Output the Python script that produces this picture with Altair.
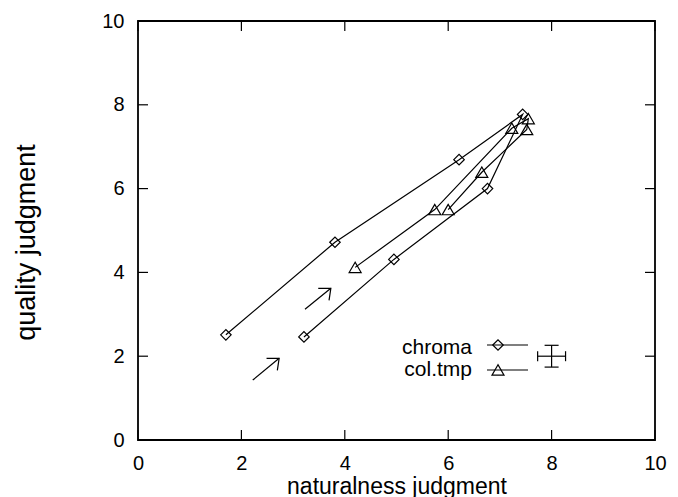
import altair as alt
import pandas as pd

FONT = "Liberation Sans"

# ---- data ----
X_TICKS = [0, 2, 4, 6, 8, 10]
Y_TICKS = [0, 2, 4, 6, 8, 10]

SERIES = ["chroma", "col.tmp"]
SHAPES = ["diamond", "triangle-up"]
SIZES = [110, 144]

chroma_x = [3.21, 4.95, 6.76, 7.44, 6.21, 3.81, 1.70]
chroma_y = [2.46, 4.31, 6.00, 7.77, 6.69, 4.72, 2.51]

coltmp_x = [4.20, 5.74, 7.23, 7.55, 7.52, 6.65, 6.00]
coltmp_y = [4.12, 5.50, 7.44, 7.67, 7.41, 6.39, 5.50]

# direction arrows (start -> end)
arrow_x0 = [2.22, 3.23]
arrow_y0 = [1.43, 3.12]
arrow_x1 = [2.73, 3.73]
arrow_y1 = [1.95, 3.62]

# typical error bar
err_x = [8.0]
err_y = [2.0]
err_dx = [0.27]
err_dy = [0.26]

# ---- layout ----
W, H = 517, 419
TICK_LEN = 10

xs = alt.Scale(domain=[0, 10], nice=False, zero=False)
ys = alt.Scale(domain=[0, 10], nice=False, zero=False)

x_axis = alt.Axis(values=X_TICKS, ticks=False, domain=False, grid=False,
                  labelFont=FONT, labelFontSize=20, labelColor="black",
                  labelPadding=13, labelFlush=False, labelOverlap=False,
                  title="naturalness judgment", titleFont=FONT, titleFontSize=23,
                  titleFontWeight="normal", titleColor="black",
                  titleY=53, titleBaseline="alphabetic")
y_axis = alt.Axis(values=Y_TICKS, ticks=False, domain=False, grid=False,
                  labelFont=FONT, labelFontSize=20, labelColor="black",
                  labelPadding=14, labelFlush=False, labelOverlap=False,
                  title="quality judgment", titleFont=FONT, titleFontSize=27,
                  titleFontWeight="normal", titleColor="black",
                  titleAngle=270, titleX=-112, titleY=221,
                  titleAlign="center", titleBaseline="middle")

series_df = pd.concat([
    pd.DataFrame({"x": chroma_x, "y": chroma_y, "series": SERIES[0], "idx": range(len(chroma_x))}),
    pd.DataFrame({"x": coltmp_x, "y": coltmp_y, "series": SERIES[1], "idx": range(len(coltmp_x))}),
])

base = alt.Chart(series_df)

# axis carrier (invisible) so the axes get drawn once
axes = base.mark_point(opacity=0).encode(
    x=alt.X("x:Q", scale=xs, axis=x_axis),
    y=alt.Y("y:Q", scale=ys, axis=y_axis),
)

lines = base.mark_line(color="black", strokeWidth=1.2).encode(
    x=alt.X("x:Q", scale=xs),
    y=alt.Y("y:Q", scale=ys),
    detail="series:N",
    order="idx:Q",
)

point_layers = []
for s, shp, sz in zip(SERIES, SHAPES, SIZES):
    point_layers.append(
        alt.Chart(series_df[series_df["series"] == s]).mark_point(
            shape=shp, size=sz, filled=False, color="black", strokeWidth=1.2, opacity=1
        ).encode(x=alt.X("x:Q", scale=xs), y=alt.Y("y:Q", scale=ys))
    )

# inward tick marks on all four sides
tdf = pd.DataFrame({"v": X_TICKS})
tick_bottom = alt.Chart(tdf).mark_rule(color="black", strokeWidth=1.2).encode(
    x=alt.X("v:Q", scale=xs), y=alt.value(H), y2=alt.value(H - TICK_LEN))
tick_top = alt.Chart(tdf).mark_rule(color="black", strokeWidth=1.2).encode(
    x=alt.X("v:Q", scale=xs), y=alt.value(0), y2=alt.value(TICK_LEN))
tydf = pd.DataFrame({"v": Y_TICKS})
tick_left = alt.Chart(tydf).mark_rule(color="black", strokeWidth=1.2).encode(
    y=alt.Y("v:Q", scale=ys), x=alt.value(0), x2=alt.value(TICK_LEN))
tick_right = alt.Chart(tydf).mark_rule(color="black", strokeWidth=1.2).encode(
    y=alt.Y("v:Q", scale=ys), x=alt.value(W), x2=alt.value(W - TICK_LEN))

# arrows
adf = pd.DataFrame({"x0": arrow_x0, "y0": arrow_y0, "x1": arrow_x1, "y1": arrow_y1})
arrow_shaft = alt.Chart(adf).mark_rule(color="black", strokeWidth=1.2).encode(
    x=alt.X("x0:Q", scale=xs), y=alt.Y("y0:Q", scale=ys),
    x2="x1:Q", y2="y1:Q")
arrow_head = alt.Chart(adf).mark_point(
    shape="M -1.05 0 L 0 0 L -0.15 1", size=576, filled=False,
    color="black", strokeWidth=1.2, opacity=1
).encode(x=alt.X("x1:Q", scale=xs), y=alt.Y("y1:Q", scale=ys))

# typical error bar cross
edf = pd.DataFrame({"x": err_x, "y": err_y, "dx": err_dx, "dy": err_dy})
edf["xl"] = edf["x"] - edf["dx"]
edf["xh"] = edf["x"] + edf["dx"]
edf["yl"] = edf["y"] - edf["dy"]
edf["yh"] = edf["y"] + edf["dy"]
eb = alt.Chart(edf)
err_h = eb.mark_rule(color="black", strokeWidth=1.2).encode(
    x=alt.X("xl:Q", scale=xs), x2="xh:Q", y=alt.Y("y:Q", scale=ys))
err_v = eb.mark_rule(color="black", strokeWidth=1.2).encode(
    x=alt.X("x:Q", scale=xs), y=alt.Y("yl:Q", scale=ys), y2="yh:Q")
cap_style = dict(filled=False, color="black", strokeWidth=1.2, opacity=1)
err_cap_l = eb.mark_point(shape="M 0 -1 L 0 1", size=100, **cap_style).encode(
    x=alt.X("xl:Q", scale=xs), y=alt.Y("y:Q", scale=ys))
err_cap_r = eb.mark_point(shape="M 0 -1 L 0 1", size=100, **cap_style).encode(
    x=alt.X("xh:Q", scale=xs), y=alt.Y("y:Q", scale=ys))
err_cap_b = eb.mark_point(shape="M -1 0 L 1 0", size=196, **cap_style).encode(
    x=alt.X("x:Q", scale=xs), y=alt.Y("yl:Q", scale=ys))
err_cap_t = eb.mark_point(shape="M -1 0 L 1 0", size=196, **cap_style).encode(
    x=alt.X("x:Q", scale=xs), y=alt.Y("yh:Q", scale=ys))

# custom key (labels left of samples, like the original)
LEG_TEXT_X = 334
LEG_LINE_X0, LEG_LINE_X1 = 349, 390
LEG_SYM_X = 360
LEG_BASELINES = [333, 355]
LEG_LINE_Y = [324, 349]

key_layers = []
one = pd.DataFrame({"k": [0]})
for s, shp, sz, tb, ly in zip(SERIES, SHAPES, SIZES, LEG_BASELINES, LEG_LINE_Y):
    key_layers.append(alt.Chart(one).mark_text(
        text=s, font=FONT, fontSize=21, align="right", baseline="alphabetic", color="black"
    ).encode(x=alt.value(LEG_TEXT_X), y=alt.value(tb)))
    key_layers.append(alt.Chart(one).mark_rule(color="black", strokeWidth=1.2).encode(
        x=alt.value(LEG_LINE_X0), x2=alt.value(LEG_LINE_X1), y=alt.value(ly)))
    key_layers.append(alt.Chart(one).mark_point(
        shape=shp, size=sz, filled=False, color="black", strokeWidth=1.2, opacity=1
    ).encode(x=alt.value(LEG_SYM_X), y=alt.value(ly)))

chart = alt.layer(
    axes, tick_bottom, tick_top, tick_left, tick_right,
    lines, *point_layers, arrow_shaft, arrow_head,
    err_h, err_v, err_cap_l, err_cap_r, err_cap_b, err_cap_t,
    *key_layers,
).properties(
    width=W, height=H,
    autosize=alt.AutoSizeParams(type="none"),
    padding={"left": 138, "top": 21, "right": 23, "bottom": 57},
    background="white",
).configure_view(stroke="black", strokeWidth=1.8)

chart.save("out.html", embed_options={"renderer": "svg", "actions": False})
